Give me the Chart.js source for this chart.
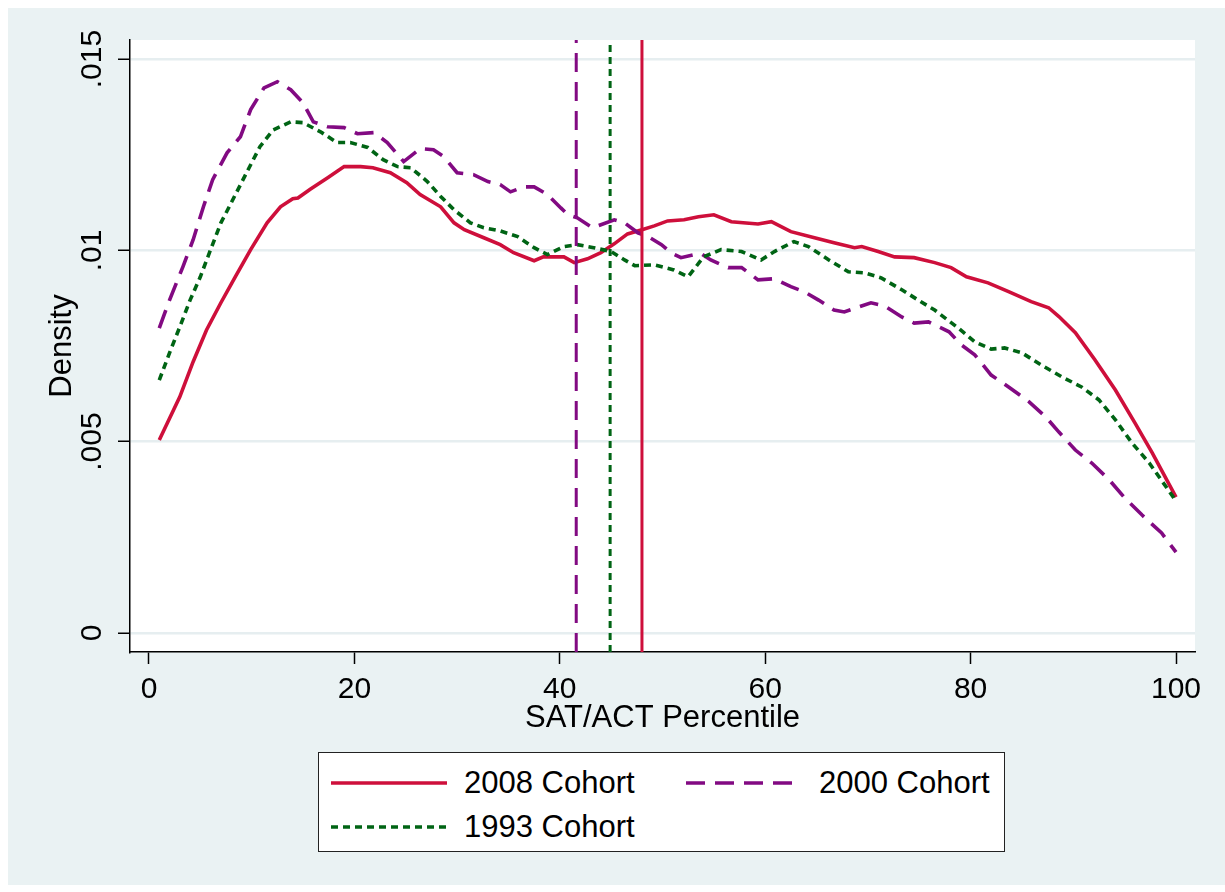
<!DOCTYPE html>
<html>
<head>
<meta charset="utf-8">
<script src="https://cdn.jsdelivr.net/npm/chart.js@4.4.0/dist/chart.umd.min.js"></script>
<style>
  body { margin: 0; background: #fff; }
  #wrap { position: relative; width: 1225px; height: 892px; }
  #chart { position: absolute; left: 0; top: 0; }
  #legend {
    position: absolute; left: 318px; top: 752px; width: 687px; height: 100px;
    box-sizing: border-box; border: 1.5px solid #222; background: #fff;
    font-family: "Liberation Sans", Arial, sans-serif; font-size: 31px; color: #000;
  }
  #legend .item { position: absolute; height: 36px; line-height: 36px; white-space: nowrap; }
  #legend svg { position: absolute; left: 0; top: 15px; }
  #legend span { position: absolute; left: 133px; top: 0; }
</style>
</head>
<body>
<div id="wrap">
  <canvas id="chart" width="1225" height="892"></canvas>
  <div id="legend"></div>
</div>
<script>
// data (kernel density of SAT/ACT percentile)
const seriesNames = ["2008 Cohort", "2000 Cohort", "1993 Cohort"];
const seriesColors = ["#CE0F3B", "#820A82", "#006414"];
const seriesDash = [[], [19, 10], [7, 5]];

const pct2008 = [1, 3, 4.3, 5.6, 7, 8.4, 9.9, 11.5, 12.8, 14, 14.5, 15.7, 17.4, 19, 20.6, 21.8, 23.5, 25.1, 26.4, 28.4,
  29.7, 30.7, 32.6, 34.2, 35.5, 37.5, 38.4, 40.4, 41.4, 42.7, 44, 45.3, 46.6, 48, 49.2, 50.5, 52.1, 53.5, 55, 56.7,
  59.3, 60.6, 62.5, 64.8, 66.7, 68.7, 69.4, 71, 72.6, 74.5, 76.5, 78.1, 79.6, 81.7, 83.7, 85.9, 87.6, 88.6, 90.2,
  92.1, 94.1, 96, 97.7, 100];
const dens2008 = [.00504, .00617, .00709, .00792, .00863, .00931, .01002, .01072, .01114, .01135, .01137, .0116,
  .0119, .01219, .01219, .01216, .01203, .01177, .01146, .01114, .01072, .01054, .01033, .01015, .00994, .00973,
  .00983, .00983, .00968, .00978, .00994, .01017, .01043, .01054, .01064, .01077, .0108, .01088, .01093, .01075,
  .01069, .01075, .01049, .01033, .0102, .01007, .0101, .00997, .00983, .00981, .00968, .00955, .00931, .00915,
  .00892, .00866, .0085, .00827, .00785, .00714, .00635, .00549, .0047, .00355];

const pct2000 = [1, 2, 3.3, 4.3, 5.3, 6.2, 7.6, 8.9, 9.9, 11.2, 12.5, 13.8, 15, 16, 17.4, 19, 20.3, 21.9, 23.2, 24.8,
  26.4, 27.7, 28.7, 30, 31.6, 33, 34.2, 35.2, 36.5, 37.5, 38.8, 40.1, 40.8, 41.7, 43.2, 44, 45.3, 46.3, 47.6, 48.6,
  49.9, 50.8, 51.8, 53.1, 53.8, 54.7, 56.4, 57.7, 59.3, 60.9, 62.5, 63.8, 65.2, 66.7, 67.7, 69.1, 70.3, 71.6, 73.3,
  74.5, 75.9, 77.9, 79.1, 80.4, 82, 83.7, 85.7, 87.3, 88.6, 90.2, 91.8, 93.5, 95, 96.7, 98.6, 100];
const dens2000 = [.00797, .0087, .00957, .01028, .01114, .01185, .01255, .01297, .01368, .01425, .01441, .0142,
  .01386, .01336, .01323, .01321, .01305, .01308, .01282, .01232, .01266, .01263, .01245, .01203, .01198, .0118,
  .01172, .01153, .01166, .01166, .01146, .01111, .01093, .01085, .01059, .01067, .0108, .01072, .01046, .01036,
  .01015, .00994, .00981, .00989, .00991, .00975, .00955, .00955, .00923, .00926, .00905, .00892, .0087, .00844,
  .00839, .00852, .00863, .00855, .00826, .0081, .00813, .00787, .00753, .00727, .00674, .00643, .00604, .00565,
  .00525, .00478, .00444, .004, .00353, .00308, .00261, .00211];

const pct1993 = [1, 2, 3, 4, 5, 6, 7, 8, 9.5, 10.8, 12.1, 13.8, 15, 16.7, 18.3, 19.6, 21.3, 22.8, 24.2, 25.5, 27.1,
  28.4, 29.7, 31.3, 32.6, 34.2, 35.9, 37.5, 38.8, 40.4, 41.7, 43.3, 45, 46.3, 47.3, 49.2, 51.1, 52.5, 54, 55.7,
  57.7, 59.6, 60.9, 62.8, 64.2, 66.2, 68.1, 69.7, 71.3, 73.3, 74.9, 76.5, 78.8, 80.4, 82, 83.3, 85, 86.9, 88.9,
  90.8, 92.5, 94.1, 95.7, 97.4, 100];
const dens1993 = [.00661, .00732, .008, .0087, .00931, .01002, .01072, .01124, .01203, .01271, .01315, .01336,
  .01334, .0131, .01282, .01282, .01269, .01237, .01219, .01216, .0118, .01141, .01106, .01072, .01059, .01051,
  .01036, .01007, .00989, .0101, .01015, .01007, .00997, .00975, .0096, .00962, .00949, .00931, .00983, .01002,
  .00997, .00975, .00997, .01023, .0101, .00975, .00944, .00941, .00928, .00897, .0087, .00844, .00797, .00761,
  .00742, .00745, .00732, .007, .00669, .00643, .00609, .00557, .00497, .00444, .00345];

// cohort means (vertical lines)
const cohortMeans = [48.0, 41.6, 44.9];

const xTicks = [0, 20, 40, 60, 80, 100];
const yTicks = [0, 0.005, 0.01, 0.015];

const xMin = -1.85, xMax = 101.85;
const yMin = -0.0005, yMax = 0.0155;

const FONT = "'Liberation Sans', Arial, sans-serif";
const bgColor = "#EAF2F3";

const toPoints = (xs, ys) => xs.map((x, i) => ({ x: x, y: ys[i] }));
const curves = [toPoints(pct2008, dens2008), toPoints(pct2000, dens2000), toPoints(pct1993, dens1993)];

const datasets = [];
// vertical mean lines first, curves on top
cohortMeans.forEach(function (m, i) {
  datasets.push({
    data: [{ x: m, y: yMin }, { x: m, y: yMax }],
    borderColor: seriesColors[i],
    borderDash: seriesDash[i],
    borderWidth: 3,
    pointRadius: 0,
  });
});
[2, 1, 0].forEach(function (i) {
  datasets.push({
    label: seriesNames[i],
    data: curves[i],
    borderColor: seriesColors[i],
    borderDash: seriesDash[i],
    borderWidth: 3.6,
    pointRadius: 0,
    tension: 0,
  });
});

const backdrop = {
  id: "backdrop",
  beforeDraw(chart) {
    const c = chart.ctx, a = chart.chartArea;
    c.save();
    c.fillStyle = "#fff";
    c.fillRect(0, 0, chart.width, chart.height);
    c.fillStyle = bgColor;
    c.fillRect(8, 8, chart.width - 8, 877);
    c.fillStyle = "#fff";
    c.fillRect(a.left, a.top, a.right - a.left, a.bottom - a.top);
    c.restore();
  },
};

function fmtY(v) {
  if (v === 0) return "0";
  return String(+v.toFixed(4)).replace(/^0/, "");
}

new Chart(document.getElementById("chart"), {
  type: "line",
  data: { datasets: datasets },
  plugins: [backdrop],
  options: {
    responsive: false,
    animation: false,
    events: [],
    layout: { padding: { top: 40, right: 30, left: 8, bottom: 150 } },
    plugins: { legend: { display: false }, tooltip: { enabled: false } },
    scales: {
      x: {
        type: "linear",
        min: xMin,
        max: xMax,
        afterBuildTicks: (s) => { s.ticks = xTicks.map((v) => ({ value: v })); },
        afterFit: (s) => { s.height = 90; },
        grid: { drawOnChartArea: false, tickLength: 12, tickColor: "#000", tickWidth: 1.5 },
        border: { display: true, color: "#000", width: 1.5 },
        ticks: { color: "#000", font: { family: FONT, size: 30 }, padding: 8, maxRotation: 0 },
        title: { display: true, text: "SAT/ACT Percentile", color: "#000",
          font: { family: FONT, size: 31 }, padding: { top: 0, bottom: 5.4 } },
      },
      y: {
        type: "linear",
        min: yMin,
        max: yMax,
        afterBuildTicks: (s) => { s.ticks = yTicks.map((v) => ({ value: v })); },
        afterFit: (s) => { s.width = 122; },
        grid: { color: "#E6EEF0", lineWidth: 2.5, tickLength: 12, tickColor: "#000", tickWidth: 1.5 },
        border: { display: true, color: "#000", width: 1.5 },
        ticks: { color: "#000", font: { family: FONT, size: 30 }, padding: -4,
          minRotation: 90, maxRotation: 90, crossAlign: "center", callback: fmtY },
        title: { display: true, text: "Density", color: "#000",
          font: { family: FONT, size: 31 }, padding: { top: 35.4, bottom: 0 } },
      },
    },
  },
});

// legend box
const legendPos = [[12, 12], [367, 12], [12, 56]];
const legendEl = document.getElementById("legend");
seriesNames.forEach(function (name, i) {
  const item = document.createElement("div");
  item.className = "item";
  item.style.left = legendPos[i][0] + "px";
  item.style.top = legendPos[i][1] + "px";
  const dash = seriesDash[i].length ? ' stroke-dasharray="' + seriesDash[i].join(" ") + '"' : "";
  item.innerHTML = '<svg width="116" height="6"><line x1="0" y1="3" x2="116" y2="3" stroke="' +
    seriesColors[i] + '" stroke-width="3.5"' + dash + '/></svg><span>' + name + "</span>";
  legendEl.appendChild(item);
});
</script>
</body>
</html>
